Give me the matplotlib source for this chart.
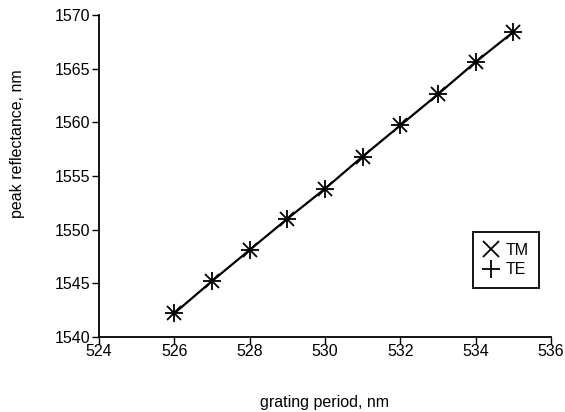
import matplotlib
matplotlib.use("Agg")
import matplotlib.pyplot as plt
from matplotlib.lines import Line2D

plt.rcParams['font.family'] = ['Liberation Sans', 'DejaVu Sans']

grating_period = [526, 527, 528, 529, 530, 531, 532, 533, 534, 535]
peak_tm = [1542.2, 1545.2, 1548.1, 1551.0, 1553.8, 1556.8, 1559.7, 1562.6, 1565.6, 1568.4]
peak_te = [1542.2, 1545.2, 1548.1, 1551.0, 1553.8, 1556.8, 1559.7, 1562.6, 1565.6, 1568.4]
x_ticks = [524, 526, 528, 530, 532, 534, 536]
y_ticks = [1540, 1545, 1550, 1555, 1560, 1565, 1570]

fig = plt.figure(figsize=(5.65, 4.12), dpi=100)
ax = fig.add_axes([0.175, 0.182, 0.80, 0.782])

ax.plot(grating_period, peak_tm, color='black', lw=1.6, marker='x', ms=10,
        mew=1.3, label='TM')
ax.plot(grating_period, peak_te, color='black', lw=1.6, marker='+', ms=13,
        mew=1.3, linestyle='none', label='TE')

ax.set_xlim(524, 536)
ax.set_ylim(1540, 1570)
ax.set_xticks(x_ticks)
ax.set_yticks(y_ticks)
ax.spines['top'].set_visible(False)
ax.spines['right'].set_visible(False)
for s in ('left', 'bottom'):
    ax.spines[s].set_linewidth(1.3)
ax.tick_params(direction='out', length=5, width=1, labelsize=11.5)
ax.tick_params(axis='x', pad=0)
ax.tick_params(axis='y', pad=1)

ax.set_xlabel('grating period, nm', fontsize=11.5, labelpad=26)
ax.set_ylabel('peak reflectance, nm', fontsize=11.5)
ax.yaxis.set_label_coords(-0.163, 0.60)

handles = [Line2D([], [], color='black', marker='x', ms=12, mew=1.3, ls='none'),
           Line2D([], [], color='black', marker='+', ms=13, mew=1.3, ls='none')]
leg = ax.legend(handles, ['TM', 'TE'], loc='upper left',
                bbox_to_anchor=(0.827, 0.325), fancybox=False, framealpha=1,
                edgecolor='black', fontsize=11.5, handlelength=1.0,
                handletextpad=0.4, borderpad=0.65, labelspacing=0.3,
                borderaxespad=0)
leg.get_frame().set_linewidth(1.3)

fig.savefig('out.png', dpi=100)
